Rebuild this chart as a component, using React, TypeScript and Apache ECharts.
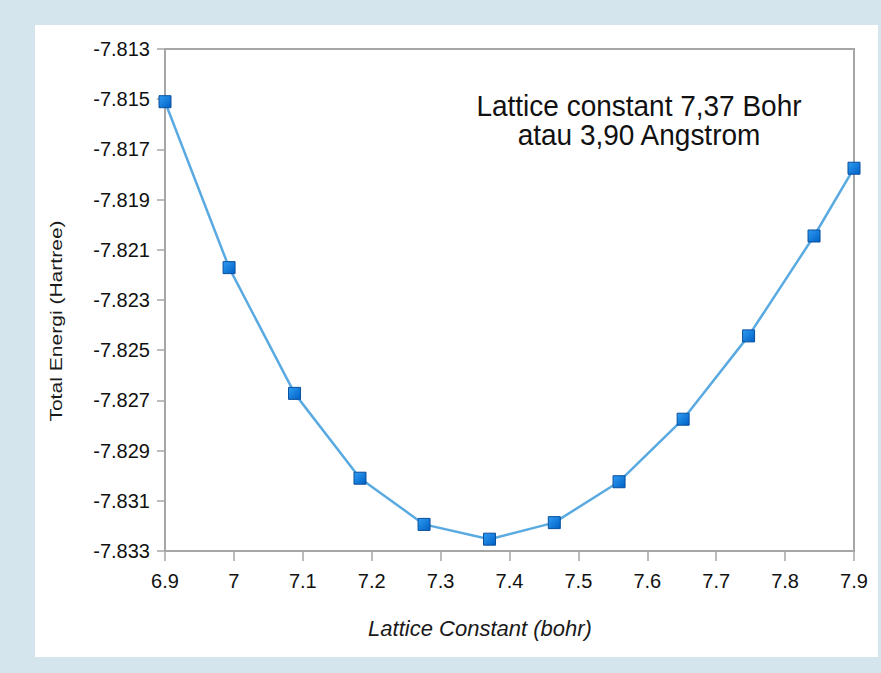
import React, { useEffect, useRef } from "react";
import * as echarts from "echarts";

const latticeConstants = [6.9, 6.993, 7.088, 7.183, 7.276, 7.371, 7.465, 7.559, 7.652, 7.747, 7.842, 7.9];
const totalEnergies = [-7.8151, -7.82171, -7.82672, -7.8301, -7.83194, -7.83253, -7.83187, -7.83024, -7.82775, -7.82443, -7.82045, -7.81775];
const xTitle = "Lattice Constant (bohr)";
const yTitle = "Total Energi (Hartree)";
const noteLines = ["Lattice constant 7,37 Bohr", "atau 3,90 Angstrom"];

export default function App() {
  const ref = useRef<HTMLDivElement>(null);
  useEffect(() => {
    if (!ref.current) return;
    const chart = echarts.init(ref.current, undefined, { renderer: "svg" });
    const font = "'Liberation Sans', Arial, sans-serif";
    chart.setOption({
      animation: false,
      backgroundColor: "#d5e5ee",
      textStyle: { fontFamily: font },
      graphic: [
        {
          type: "rect",
          z: -10,
          silent: true,
          shape: { x: 35, y: 25, width: 843, height: 632 },
          style: { fill: "#ffffff" },
        },
        {
          type: "text",
          x: 639,
          y: 106,
          scaleY: 1.08,
          style: { text: noteLines[0], font: `28px ${font}`, fill: "#111", textAlign: "center", textVerticalAlign: "middle" },
        },
        {
          type: "text",
          x: 639,
          y: 135,
          scaleY: 1.08,
          style: { text: noteLines[1], font: `28px ${font}`, fill: "#111", textAlign: "center", textVerticalAlign: "middle" },
        },
        {
          type: "text",
          x: 480,
          y: 628,
          style: { text: xTitle, font: `italic 22px ${font}`, fill: "#1a1a1a", textAlign: "center", textVerticalAlign: "middle" },
        },
        {
          type: "text",
          x: 56,
          y: 321,
          rotation: Math.PI / 2,
          scaleX: 1.24,
          style: { text: yTitle, font: `17px ${font}`, fill: "#1a1a1a", textAlign: "center", textVerticalAlign: "middle" },
        },
      ],
      grid: {
        left: 165,
        right: 27,
        top: 49,
        bottom: 122,
        show: true,
        borderColor: "#a6a6a6",
        borderWidth: 2,
        backgroundColor: "transparent",
      },
      xAxis: {
        type: "value",
        min: 6.9,
        max: 7.9,
        interval: 0.1,
        axisLine: { show: true, lineStyle: { color: "#a6a6a6", width: 2 } },
        axisTick: { show: true, length: 10, lineStyle: { color: "#a6a6a6", width: 1.5 } },
        axisLabel: {
          margin: 20,
          fontSize: 20,
          color: "#111",
          fontFamily: font,
          formatter: (v: number) => String(parseFloat(v.toFixed(1))),
        },
        splitLine: { show: false },
      },
      yAxis: {
        type: "value",
        min: -7.833,
        max: -7.813,
        interval: 0.002,
        axisLine: { show: true, lineStyle: { color: "#a6a6a6", width: 2 } },
        axisTick: { show: true, length: 8, lineStyle: { color: "#a6a6a6", width: 1.5 } },
        axisLabel: {
          margin: 15,
          fontSize: 20,
          color: "#111",
          fontFamily: font,
          formatter: (v: number) => v.toFixed(3),
        },
        splitLine: { show: false },
      },
      series: [
        {
          type: "line",
          data: latticeConstants.map((x, i) => [x, totalEnergies[i]]),
          symbol: "rect",
          symbolSize: 12,
          lineStyle: { color: "#5aaae2", width: 2.5 },
          itemStyle: {
            color: new echarts.graphic.LinearGradient(0, 0, 1, 1, [
              { offset: 0, color: "#2e9cf2" },
              { offset: 1, color: "#0060c6" },
            ]),
            borderColor: "#0a4f9c",
            borderWidth: 1,
          },
          clip: false,
        },
      ],
    });
    return () => chart.dispose();
  }, []);
  return <div ref={ref} style={{ position: "fixed", left: 0, top: 0, width: 881, height: 673 }} />;
}
